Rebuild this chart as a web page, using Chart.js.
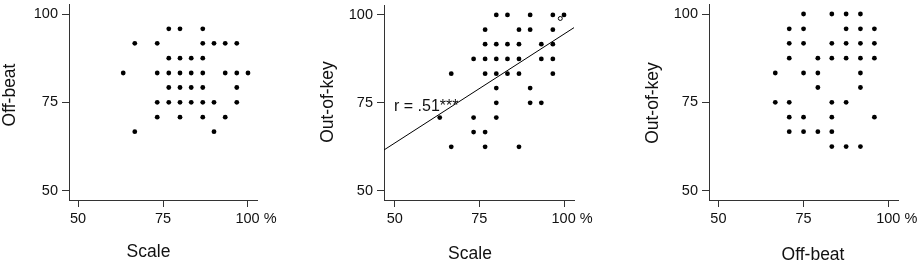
<!DOCTYPE html>
<html>
<head>
<meta charset="utf-8">
<script src="https://cdn.jsdelivr.net/npm/chart.js@4.4.1/dist/chart.umd.min.js"></script>
<style>
    body { margin: 0; background: #fff; }
    #wrap { position: relative; width: 921px; height: 264px; }
    canvas { position: absolute; top: 0; }
</style>
</head>
<body>
<div id="wrap">
    <canvas id="c1" width="307" height="264" style="left:0px"></canvas>
    <canvas id="c2" width="307" height="264" style="left:307px"></canvas>
    <canvas id="c3" width="307" height="264" style="left:614px"></canvas>
</div>
<script>
// panel 1: Scale (x) vs Off-beat (y)
const p1Scale = [76.7, 80, 86.7,
    66.7, 73.3, 86.7, 90, 93.3, 96.7,
    76.7, 80, 83.3, 86.7,
    63.3, 73.3, 76.7, 80, 83.3, 86.7, 93.3, 96.7, 100,
    76.7, 80, 83.3, 86.7, 96.7,
    73.3, 76.7, 80, 83.3, 86.7, 90, 96.7,
    73.3, 80, 86.7, 93.3,
    66.7, 90];
const p1OffBeat = [95.8, 95.8, 95.8,
    91.7, 91.7, 91.7, 91.7, 91.7, 91.7,
    87.5, 87.5, 87.5, 87.5,
    83.3, 83.3, 83.3, 83.3, 83.3, 83.3, 83.3, 83.3, 83.3,
    79.2, 79.2, 79.2, 79.2, 79.2,
    75, 75, 75, 75, 75, 75, 75,
    70.8, 70.8, 70.8, 70.8,
    66.7, 66.7];

// panel 2: Scale (x) vs Out-of-key (y)
const p2Scale = [80, 83.3, 90, 96.7, 100,
    76.7, 86.7, 90, 96.7,
    76.7, 80, 83.3, 86.7, 93.3, 96.7,
    73.3, 76.7, 80, 83.3, 86.7, 93.3, 96.7,
    66.7, 76.7, 80, 83.3, 86.7, 96.7,
    80, 90,
    80, 90, 93.3,
    63.3, 73.3, 80,
    73.3, 76.7,
    66.7, 76.7, 86.7];
const p2OutOfKey = [100, 100, 100, 100, 100,
    95.8, 95.8, 95.8, 95.8,
    91.7, 91.7, 91.7, 91.7, 91.7, 91.7,
    87.5, 87.5, 87.5, 87.5, 87.5, 87.5, 87.5,
    83.3, 83.3, 83.3, 83.3, 83.3, 83.3,
    79.2, 79.2,
    75, 75, 75,
    70.8, 70.8, 70.8,
    66.7, 66.7,
    62.5, 62.5, 62.5];
const p2Outlier = [{ x: 98.9, y: 99 }];
const fitIntercept = 32.56;
const fitSlope = 0.62;

// panel 3: Off-beat (x) vs Out-of-key (y)
const p3OffBeat = [75, 83.3, 87.5, 91.7,
    70.8, 75, 87.5, 91.7, 95.8,
    70.8, 75, 83.3, 87.5, 91.7, 95.8,
    70.8, 79.2, 83.3, 87.5, 91.7, 95.8,
    66.7, 75, 79.2, 91.7,
    79.2, 91.7,
    66.7, 70.8, 83.3, 87.5,
    70.8, 75, 83.3, 95.8,
    70.8, 75, 79.2, 83.3,
    83.3, 87.5, 91.7];
const p3OutOfKey = [100, 100, 100, 100,
    95.8, 95.8, 95.8, 95.8, 95.8,
    91.7, 91.7, 91.7, 91.7, 91.7, 91.7,
    87.5, 87.5, 87.5, 87.5, 87.5, 87.5,
    83.3, 83.3, 83.3, 83.3,
    79.2, 79.2,
    75, 75, 75, 75,
    70.8, 70.8, 70.8, 70.8,
    66.7, 66.7, 66.7, 66.7,
    62.5, 62.5, 62.5];

const tickVals = [50, 75, 100];
const FONT = '"Liberation Sans", Arial, sans-serif';
const INK = '#111';

// axis titles and the r label, drawn at fixed spots
const extraText = {
    id: 'extraText',
    afterDraw(chart, args, o) {
        const ctx = chart.ctx;
        ctx.save();
        ctx.fillStyle = INK;
        ctx.font = '17.5px ' + FONT;
        ctx.textAlign = 'center';
        ctx.textBaseline = 'middle';
        ctx.fillText(o.xTitle, o.xTitlePos[0], o.xTitlePos[1]);
        ctx.save();
        ctx.translate(o.yTitlePos[0], o.yTitlePos[1]);
        ctx.rotate(-Math.PI / 2);
        ctx.fillText(o.yTitle, 0, 0);
        ctx.restore();
        if (o.note) {
            ctx.font = '16px ' + FONT;
            ctx.textAlign = 'left';
            ctx.textBaseline = 'alphabetic';
            const px = chart.scales.x.getPixelForValue(o.note.x);
            const py = chart.scales.y.getPixelForValue(o.note.y);
            ctx.fillText(o.note.text, px, py);
        }
        ctx.restore();
    }
};

function panel(id, xs, ys, cfg) {
    const pts = xs.map((x, i) => ({ x: x, y: ys[i] }));
    const datasets = [{
        type: 'scatter',
        data: pts,
        pointRadius: 2.4,
        pointBackgroundColor: '#000',
        pointBorderWidth: 0
    }];
    if (cfg.outlier) {
        datasets.push({
            type: 'scatter',
            data: cfg.outlier,
            pointRadius: 2,
            pointBackgroundColor: '#fff',
            pointBorderColor: '#000',
            pointBorderWidth: 1
        });
    }
    if (cfg.fit) {
        const a = cfg.xMin, b = cfg.xMax;
        datasets.push({
            type: 'line',
            data: [{ x: a, y: cfg.fit[0] + cfg.fit[1] * a }, { x: b, y: cfg.fit[0] + cfg.fit[1] * b }],
            borderColor: '#000',
            borderWidth: 1,
            pointRadius: 0,
            fill: false
        });
    }

    const axisBase = {
        type: 'linear',
        afterBuildTicks: s => { s.ticks = tickVals.map(v => ({ value: v })); },
        grid: { drawOnChartArea: false, drawTicks: true, tickLength: 7, color: '#333' },
        border: { display: true, color: '#333', width: 1 }
    };

    new Chart(document.getElementById(id), {
        type: 'scatter',
        data: { datasets: datasets },
        plugins: [extraText],
        options: {
            responsive: false,
            animation: false,
            events: [],
            layout: { padding: { left: 0, right: cfg.padRight, top: 4, bottom: 0 } },
            scales: {
                x: Object.assign({}, axisBase, {
                    position: 'bottom',
                    min: cfg.xMin,
                    max: cfg.xMax,
                    afterFit: s => {
                        s.height = 64;
                        s.paddingLeft = 0;
                        s.paddingRight = 0;
                    },
                    ticks: {
                        autoSkip: false, maxRotation: 0, padding: 3,
                        color: INK, font: { family: FONT, size: 14.5 },
                        callback: v => v === 100 ? '    100 %' : String(v)
                    }
                }),
                y: Object.assign({}, axisBase, {
                    position: 'left',
                    min: 47.37,
                    max: 102.83,
                    afterFit: s => {
                        s.width = cfg.yWidth;
                        s.paddingTop = 0;
                        s.paddingBottom = 0;
                    },
                    ticks: {
                        autoSkip: false, padding: 4,
                        color: INK, font: { family: FONT, size: 14.5 }
                    }
                })
            },
            plugins: {
                legend: { display: false },
                tooltip: { enabled: false },
                extraText: {
                    xTitle: cfg.xTitle, xTitlePos: cfg.xTitlePos,
                    yTitle: cfg.yTitle, yTitlePos: cfg.yTitlePos,
                    note: cfg.note
                }
            }
        }
    });
}

window.onload = function() {
    panel('c1', p1Scale, p1OffBeat, {
        xMin: 47.35, xMax: 102.65, yWidth: 69, padRight: 50,
        xTitle: 'Scale', xTitlePos: [148.5, 252.5],
        yTitle: 'Off-beat', yTitlePos: [10, 95]
    });
    panel('c2', p2Scale, p2OutOfKey, {
        xMin: 46.84, xMax: 102.95, yWidth: 77, padRight: 40,
        outlier: p2Outlier,
        fit: [fitIntercept, fitSlope],
        note: { text: 'r = .51***', x: 49.8, y: 72.6 },
        xTitle: 'Scale', xTitlePos: [163, 254],
        yTitle: 'Out-of-key', yTitlePos: [21, 102]
    });
    panel('c3', p3OffBeat, p3OutOfKey, {
        xMin: 47.24, xMax: 102.73, yWidth: 95, padRight: 23,
        xTitle: 'Off-beat', xTitlePos: [199, 255],
        yTitle: 'Out-of-key', yTitlePos: [39, 103]
    });
};
</script>
</body>
</html>
